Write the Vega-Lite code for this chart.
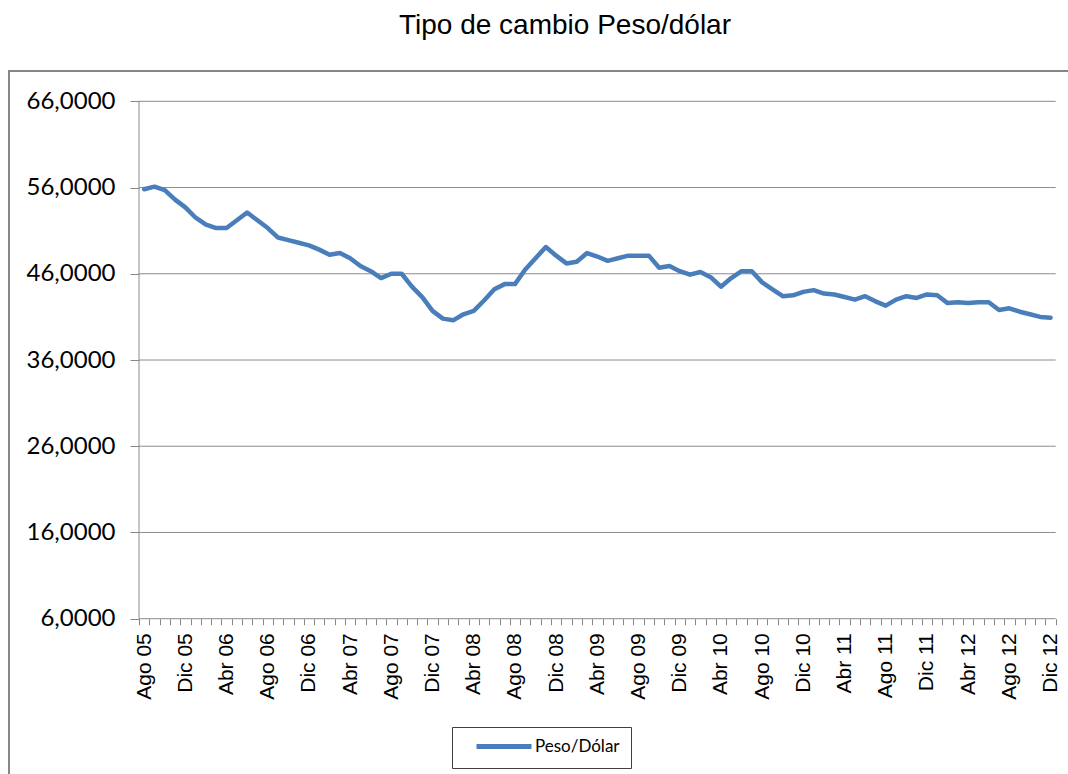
{
  "$schema": "https://vega.github.io/schema/vega-lite/v6.json",
  "autosize": {"type": "none"},
  "padding": {"left": 9, "top": 71, "right": 0, "bottom": 0},
  "width": 1112,
  "height": 719,
  "background": "#ffffff",
  "title": {
    "text": "Tipo de cambio Peso/dólar",
    "font": "Liberation Sans",
    "fontSize": 28,
    "fontWeight": "normal",
    "color": "#000000",
    "anchor": "middle",
    "frame": "group",
    "baseline": "alphabetic",
    "offset": 9
  },
  "config": {
    "view": {"stroke": "#878787", "strokeWidth": 2}
  },
  "datasets": {
    "tc": [
      {"mes": "Ago 05", "valor": 55.8}, {"mes": "Sep 05", "valor": 56.1}, {"mes": "Oct 05", "valor": 55.7}, {"mes": "Nov 05", "valor": 54.6},
      {"mes": "Dic 05", "valor": 53.7}, {"mes": "Ene 06", "valor": 52.5}, {"mes": "Feb 06", "valor": 51.7}, {"mes": "Mar 06", "valor": 51.3},
      {"mes": "Abr 06", "valor": 51.3}, {"mes": "May 06", "valor": 52.2}, {"mes": "Jun 06", "valor": 53.1}, {"mes": "Jul 06", "valor": 52.2},
      {"mes": "Ago 06", "valor": 51.3}, {"mes": "Sep 06", "valor": 50.2}, {"mes": "Oct 06", "valor": 49.9}, {"mes": "Nov 06", "valor": 49.6},
      {"mes": "Dic 06", "valor": 49.3}, {"mes": "Ene 07", "valor": 48.8}, {"mes": "Feb 07", "valor": 48.2}, {"mes": "Mar 07", "valor": 48.4},
      {"mes": "Abr 07", "valor": 47.8}, {"mes": "May 07", "valor": 46.9}, {"mes": "Jun 07", "valor": 46.3}, {"mes": "Jul 07", "valor": 45.5},
      {"mes": "Ago 07", "valor": 46.0}, {"mes": "Sep 07", "valor": 46.0}, {"mes": "Oct 07", "valor": 44.5}, {"mes": "Nov 07", "valor": 43.3},
      {"mes": "Dic 07", "valor": 41.7}, {"mes": "Ene 08", "valor": 40.8}, {"mes": "Feb 08", "valor": 40.6}, {"mes": "Mar 08", "valor": 41.3},
      {"mes": "Abr 08", "valor": 41.7}, {"mes": "May 08", "valor": 42.9}, {"mes": "Jun 08", "valor": 44.2}, {"mes": "Jul 08", "valor": 44.8},
      {"mes": "Ago 08", "valor": 44.8}, {"mes": "Sep 08", "valor": 46.5}, {"mes": "Oct 08", "valor": 47.8}, {"mes": "Nov 08", "valor": 49.1},
      {"mes": "Dic 08", "valor": 48.1}, {"mes": "Ene 09", "valor": 47.2}, {"mes": "Feb 09", "valor": 47.4}, {"mes": "Mar 09", "valor": 48.4},
      {"mes": "Abr 09", "valor": 48.0}, {"mes": "May 09", "valor": 47.5}, {"mes": "Jun 09", "valor": 47.8}, {"mes": "Jul 09", "valor": 48.1},
      {"mes": "Ago 09", "valor": 48.1}, {"mes": "Sep 09", "valor": 48.1}, {"mes": "Oct 09", "valor": 46.7}, {"mes": "Nov 09", "valor": 46.9},
      {"mes": "Dic 09", "valor": 46.3}, {"mes": "Ene 10", "valor": 45.9}, {"mes": "Feb 10", "valor": 46.2}, {"mes": "Mar 10", "valor": 45.6},
      {"mes": "Abr 10", "valor": 44.5}, {"mes": "May 10", "valor": 45.5}, {"mes": "Jun 10", "valor": 46.3}, {"mes": "Jul 10", "valor": 46.3},
      {"mes": "Ago 10", "valor": 45.0}, {"mes": "Sep 10", "valor": 44.2}, {"mes": "Oct 10", "valor": 43.4}, {"mes": "Nov 10", "valor": 43.5},
      {"mes": "Dic 10", "valor": 43.9}, {"mes": "Ene 11", "valor": 44.1}, {"mes": "Feb 11", "valor": 43.7}, {"mes": "Mar 11", "valor": 43.6},
      {"mes": "Abr 11", "valor": 43.3}, {"mes": "May 11", "valor": 43.0}, {"mes": "Jun 11", "valor": 43.4}, {"mes": "Jul 11", "valor": 42.8},
      {"mes": "Ago 11", "valor": 42.3}, {"mes": "Sep 11", "valor": 43.0}, {"mes": "Oct 11", "valor": 43.4}, {"mes": "Nov 11", "valor": 43.2},
      {"mes": "Dic 11", "valor": 43.6}, {"mes": "Ene 12", "valor": 43.5}, {"mes": "Feb 12", "valor": 42.6}, {"mes": "Mar 12", "valor": 42.7},
      {"mes": "Abr 12", "valor": 42.6}, {"mes": "May 12", "valor": 42.7}, {"mes": "Jun 12", "valor": 42.7}, {"mes": "Jul 12", "valor": 41.8},
      {"mes": "Ago 12", "valor": 42.0}, {"mes": "Sep 12", "valor": 41.6}, {"mes": "Oct 12", "valor": 41.3}, {"mes": "Nov 12", "valor": 41.0},
      {"mes": "Dic 12", "valor": 40.9}
    ],
    "grid": [{"g": 6}, {"g": 16}, {"g": 26}, {"g": 36}, {"g": 46}, {"g": 56}, {"g": 66}]
  },
  "layer": [
    {
      "data": {"name": "grid"},
      "mark": {"type": "rule", "color": "#8c8c8c", "strokeWidth": 1},
      "encoding": {
        "y": {"field": "g", "type": "quantitative"},
        "x": {"datum": "Ago 05", "type": "ordinal", "bandPosition": 0},
        "x2": {"datum": "Dic 12", "bandPosition": 1}
      }
    },
    {
      "data": {"values": [{"a": 1}]},
      "mark": {"type": "rule", "color": "#8c8c8c", "strokeWidth": 1},
      "encoding": {
        "x": {"datum": "Ago 05", "type": "ordinal", "bandPosition": 0},
        "y": {"datum": 6, "type": "quantitative"},
        "y2": {"datum": 66}
      }
    },
    {
      "data": {"name": "tc"},
      "transform": [{"calculate": "'Peso/Dólar'", "as": "serie"}],
      "mark": {"type": "line", "strokeWidth": 4.5, "interpolate": "linear", "strokeJoin": "round", "strokeCap": "round"},
      "encoding": {
        "x": {
          "field": "mes",
          "type": "ordinal",
          "sort": null,
          "scale": {
            "type": "band",
            "paddingInner": 0,
            "paddingOuter": 0,
            "range": [130, 1046.7],
            "domain": ["Ago 05","Sep 05","Oct 05","Nov 05","Dic 05","Ene 06","Feb 06","Mar 06","Abr 06","May 06","Jun 06","Jul 06","Ago 06","Sep 06","Oct 06","Nov 06","Dic 06","Ene 07","Feb 07","Mar 07","Abr 07","May 07","Jun 07","Jul 07","Ago 07","Sep 07","Oct 07","Nov 07","Dic 07","Ene 08","Feb 08","Mar 08","Abr 08","May 08","Jun 08","Jul 08","Ago 08","Sep 08","Oct 08","Nov 08","Dic 08","Ene 09","Feb 09","Mar 09","Abr 09","May 09","Jun 09","Jul 09","Ago 09","Sep 09","Oct 09","Nov 09","Dic 09","Ene 10","Feb 10","Mar 10","Abr 10","May 10","Jun 10","Jul 10","Ago 10","Sep 10","Oct 10","Nov 10","Dic 10","Ene 11","Feb 11","Mar 11","Abr 11","May 11","Jun 11","Jul 11","Ago 11","Sep 11","Oct 11","Nov 11","Dic 11","Ene 12","Feb 12","Mar 12","Abr 12","May 12","Jun 12","Jul 12","Ago 12","Sep 12","Oct 12","Nov 12","Dic 12"]
          },
          "axis": {
            "title": null,
            "orient": "bottom",
            "offset": -171.3,
            "domain": false,
            "grid": false,
            "ticks": true,
            "tickBand": "extent",
            "tickExtra": true,
            "tickSize": 6,
            "tickColor": "#868686",
            "tickWidth": 1,
            "labelAngle": 270,
            "labelAlign": "right",
            "labelBaseline": "middle",
            "labelPadding": 8,
            "labelFont": "Liberation Sans",
            "labelFontSize": 21,
            "labelColor": "#000000",
            "labelOverlap": false,
            "labelBound": false,
            "labelExpr": "indexof(['Ago','Dic','Abr'], slice(datum.label,0,3)) >= 0 ? datum.label : ''"
          }
        },
        "y": {
          "field": "valor",
          "type": "quantitative",
          "scale": {"domain": [6, 66], "range": [547.7, 30.3], "nice": false, "zero": false},
          "axis": {
            "title": null,
            "orient": "left",
            "offset": -130,
            "domain": false,
            "grid": false,
            "values": [6, 16, 26, 36, 46, 56, 66],
            "tickSize": 9,
            "tickColor": "#868686",
            "labelExpr": "replace(format(datum.value,'.4f'),'.',',')",
            "labelFont": "Lato",
            "labelFontSize": 24,
            "labelColor": "#000000",
            "labelPadding": 15
          }
        },
        "color": {
          "field": "serie",
          "type": "nominal",
          "scale": {"range": ["#4A7EBB"]},
          "legend": {
            "title": null,
            "orient": "none",
            "legendX": 443,
            "legendY": 656,
            "symbolType": "M1.0,0H12.0",
            "symbolSize": 100,
            "symbolStrokeWidth": 5,
            "labelFont": "Lato",
            "labelFontSize": 17,
            "labelColor": "#000000",
            "labelOffset": 55,
            "strokeColor": "#404040",
            "padding": 11
          }
        }
      }
    }
  ]
}
